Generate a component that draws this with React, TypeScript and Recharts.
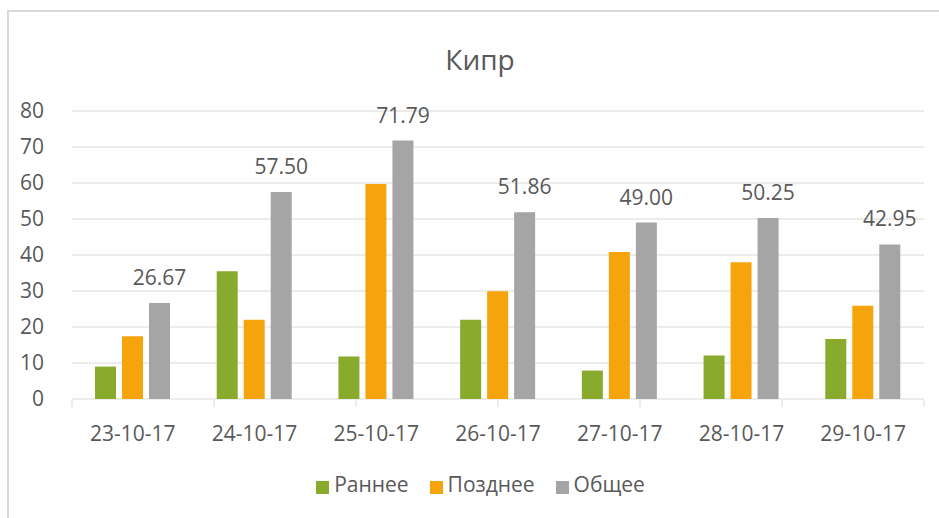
import { BarChart, Bar, XAxis, YAxis, CartesianGrid, Legend, LabelList } from 'recharts';

const dates = ['23-10-17', '24-10-17', '25-10-17', '26-10-17', '27-10-17', '28-10-17', '29-10-17'];
const early = [9, 35.5, 11.8, 22, 7.9, 12.1, 16.7];
const late = [17.4, 22, 59.7, 29.9, 40.8, 38, 25.9];
const total = [26.67, 57.5, 71.79, 51.86, 49.0, 50.25, 42.95];
const yTicks = [0, 10, 20, 30, 40, 50, 60, 70, 80];
const seriesOrder = ['Раннее', 'Позднее', 'Общее'];

const data = dates.map((d, i) => ({ date: d, early: early[i], late: late[i], total: total[i] }));
// ticks between categories, like Excel draws them
const edgeTicks = dates.map((_, i) => i).concat(dates.length);

const font = '"Open Sans", sans-serif';
const textColor = '#595959';
const lineColor = '#d9d9d9';

export default function App() {
  return (
    <div style={{ position: 'absolute', left: 0, top: 0, width: 939, height: 518, background: '#fff', fontFamily: font, overflow: 'hidden' }}>
      <div style={{ position: 'absolute', left: 7, top: 10, width: 940, height: 520, borderTop: `2px solid ${lineColor}`, borderLeft: `2px solid ${lineColor}` }} />
      <div style={{ position: 'absolute', left: 380, width: 200, top: 40, textAlign: 'center', fontSize: 28, color: textColor, lineHeight: '38px' }}>
        Кипр
      </div>
      <BarChart
        width={939}
        height={518}
        data={data}
        margin={{ top: 111, right: 15, left: 0, bottom: 79 }}
        barSize={21}
        barGap={6}
      >
        <CartesianGrid vertical={false} stroke={lineColor} />
        {/* category labels; thin so the tick axis below sits on the plot edge too */}
        <XAxis
          dataKey="date"
          height={1}
          axisLine={false}
          tickLine={false}
          tickMargin={21}
          tick={{ fill: textColor, fontSize: 21, fontFamily: font }}
        />
        <XAxis
          xAxisId="edge"
          type="number"
          domain={[0, dates.length]}
          ticks={edgeTicks}
          allowDataOverflow
          height={39}
          tickFormatter={() => ''}
          tickSize={7}
          axisLine={false}
          tickLine={{ stroke: lineColor }}
        />
        <YAxis
          domain={[0, 80]}
          ticks={yTicks}
          width={72}
          axisLine={false}
          tickLine={false}
          tickMargin={22}
          tick={{ fill: textColor, fontSize: 21, fontFamily: font }}
        />
        <Legend
          verticalAlign="middle"
          align="center"
          iconType="square"
          iconSize={13}
          itemSorter={(item: { value: string }) => seriesOrder.indexOf(item.value)}
          wrapperStyle={{ top: 470, left: 43, width: 896, fontFamily: font }}
          formatter={(value: string) => (
            <span style={{ color: textColor, fontSize: 21, marginLeft: 1, marginRight: 11 }}>{value}</span>
          )}
        />
        <Bar dataKey="early" name="Раннее" fill="#88AB2D" isAnimationActive={false} />
        <Bar dataKey="late" name="Позднее" fill="#F5A50B" isAnimationActive={false} />
        <Bar dataKey="total" name="Общее" fill="#A5A5A5" isAnimationActive={false}>
          <LabelList
            dataKey="total"
            position="top"
            offset={18}
            fill={textColor}
            fontSize={21}
            fontFamily={font}
            formatter={(v: number) => v.toFixed(2)}
          />
        </Bar>
      </BarChart>
    </div>
  );
}
